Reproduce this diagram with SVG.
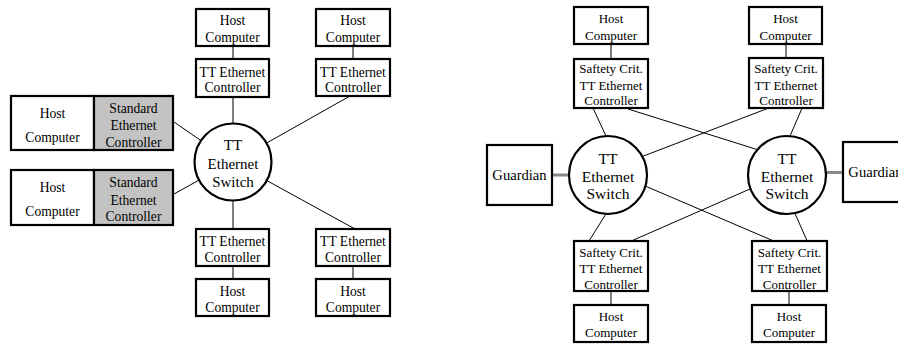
<svg xmlns="http://www.w3.org/2000/svg" width="898" height="348" viewBox="0 0 898 348">
<style>
.box{fill:#fff;stroke:#000;stroke-width:2.2}
.gray{fill:#c3c3c3;stroke:#000;stroke-width:2.2}
.sw{fill:#fff;stroke:#000;stroke-width:2.2}
.ln{stroke:#000;stroke-width:1;fill:none}
.vl{stroke:#555;stroke-width:1.5;fill:none}
.gl{stroke:#888;stroke-width:3;fill:none}
text{font-family:"Liberation Serif","Times New Roman",serif;fill:#000;text-anchor:middle}
.t{font-size:13.6px}
.r{font-size:13px}
.s{font-size:15px}
.s2{font-size:15.5px}
.g{font-size:14.6px}
</style>
<rect width="898" height="348" fill="#fff"/>
<g id="connectors">
  <!-- left diagram -->
  <line class="vl" x1="233" y1="46" x2="233" y2="59"/>
  <line class="vl" x1="353" y1="46" x2="353" y2="59"/>
  <line class="vl" x1="233" y1="97" x2="233" y2="123.5"/>
  <line class="ln" x1="350" y1="96" x2="266.5" y2="143.1"/>
  <line class="ln" x1="355" y1="229" x2="266.7" y2="180.5"/>
  <line class="ln" x1="174" y1="122" x2="201" y2="140.6"/>
  <line class="ln" x1="174" y1="194" x2="199" y2="180.1"/>
  <line class="vl" x1="233" y1="200.5" x2="233" y2="229"/>
  <line class="vl" x1="233" y1="266" x2="233" y2="279"/>
  <line class="vl" x1="353" y1="266" x2="353" y2="279"/>
  <!-- right diagram -->
  <line class="vl" x1="611" y1="44" x2="611" y2="59"/>
  <line class="vl" x1="786" y1="44" x2="786" y2="58"/>
  <line class="vl" x1="611" y1="291" x2="611" y2="305"/>
  <line class="vl" x1="789" y1="291" x2="789" y2="305"/>
  <line class="ln" x1="593" y1="108" x2="606" y2="136.1"/>
  <line class="ln" x1="628" y1="109" x2="757" y2="149.5"/>
  <line class="ln" x1="768" y1="108.3" x2="642.5" y2="156.4"/>
  <line class="ln" x1="802" y1="108.3" x2="790" y2="136.1"/>
  <line class="ln" x1="606" y1="213.9" x2="589" y2="241"/>
  <line class="ln" x1="632" y1="240.7" x2="750.4" y2="188.8"/>
  <line class="ln" x1="645.4" y1="186.1" x2="773" y2="240.7"/>
  <line class="ln" x1="795" y1="213.5" x2="807" y2="240.7"/>
  <line class="gl" x1="552" y1="175" x2="569" y2="175"/>
  <line class="gl" x1="826" y1="172.5" x2="843" y2="172.5"/>
</g>
<!-- Left diagram -->
<g id="L-host-top1"><rect class="box" x="196" y="9" width="73" height="37"/><text class="t" x="232.5" y="25.3">Host</text><text class="t" x="232.5" y="42">Computer</text></g>
<g id="L-ctrl-top1"><rect class="box" x="196" y="59" width="73" height="38"/><text class="t" x="232.5" y="76.5">TT Ethernet</text><text class="t" x="232.5" y="92">Controller</text></g>
<g id="L-host-top2"><rect class="box" x="316" y="9" width="74" height="37"/><text class="t" x="353" y="25.3">Host</text><text class="t" x="353" y="42">Computer</text></g>
<g id="L-ctrl-top2"><rect class="box" x="316" y="59" width="74" height="37"/><text class="t" x="353" y="76.5">TT Ethernet</text><text class="t" x="353" y="92">Controller</text></g>
<g id="L-std1"><rect class="box" x="11" y="96" width="83" height="54"/><rect class="gray" x="94" y="96" width="79" height="54"/><text class="t" x="52.5" y="118">Host</text><text class="t" x="52.5" y="142">Computer</text><text class="t" x="133.5" y="113">Standard</text><text class="t" x="133.5" y="130">Ethernet</text><text class="t" x="133.5" y="146.5">Controller</text></g>
<g id="L-std2"><rect class="box" x="11" y="170" width="83" height="55"/><rect class="gray" x="94" y="170" width="79" height="55"/><text class="t" x="52.5" y="191.5">Host</text><text class="t" x="52.5" y="215.5">Computer</text><text class="t" x="133.5" y="187">Standard</text><text class="t" x="133.5" y="204.5">Ethernet</text><text class="t" x="133.5" y="220.5">Controller</text></g>
<g id="L-switch"><circle class="sw" cx="233" cy="162" r="38.5"/><text class="s" x="233" y="150">TT</text><text class="s" x="233" y="168.5">Ethernet</text><text class="s" x="233" y="187">Switch</text></g>
<g id="L-ctrl-bot1"><rect class="box" x="196" y="229" width="73" height="37"/><text class="t" x="232.5" y="245.5">TT Ethernet</text><text class="t" x="232.5" y="261.5">Controller</text></g>
<g id="L-host-bot1"><rect class="box" x="196" y="279" width="73" height="37"/><text class="t" x="232.5" y="295.5">Host</text><text class="t" x="232.5" y="312">Computer</text></g>
<g id="L-ctrl-bot2"><rect class="box" x="316" y="229" width="74" height="37"/><text class="t" x="353" y="245.5">TT Ethernet</text><text class="t" x="353" y="261.5">Controller</text></g>
<g id="L-host-bot2"><rect class="box" x="316" y="279" width="74" height="37"/><text class="t" x="353" y="295.5">Host</text><text class="t" x="353" y="312">Computer</text></g>
<!-- Right diagram -->
<g id="R-host-top1"><rect class="box" x="574" y="7" width="74" height="37"/><text class="r" x="611" y="23">Host</text><text class="r" x="611" y="40">Computer</text></g>
<g id="R-ctrl-top1"><rect class="box" x="574" y="59" width="74" height="49"/><text class="r" x="611" y="73">Saftety Crit.</text><text class="r" x="611" y="89.5">TT Ethernet</text><text class="r" x="611" y="105">Controller</text></g>
<g id="R-host-top2"><rect class="box" x="749" y="7" width="73" height="37"/><text class="r" x="785.5" y="23">Host</text><text class="r" x="785.5" y="40">Computer</text></g>
<g id="R-ctrl-top2"><rect class="box" x="749" y="58" width="74" height="50"/><text class="r" x="786" y="73">Saftety Crit.</text><text class="r" x="786" y="89.5">TT Ethernet</text><text class="r" x="786" y="105">Controller</text></g>
<g id="R-guardian1"><rect class="box" x="487" y="145" width="65" height="60"/><text class="g" x="519.5" y="180">Guardian</text></g>
<g id="R-switch1"><circle class="sw" cx="608" cy="175" r="39"/><text class="s2" x="608" y="163.5">TT</text><text class="s2" x="608" y="181.5">Ethernet</text><text class="s2" x="608" y="199">Switch</text></g>
<g id="R-switch2"><circle class="sw" cx="787" cy="175" r="39"/><text class="s2" x="787" y="163.5">TT</text><text class="s2" x="787" y="181.5">Ethernet</text><text class="s2" x="787" y="199">Switch</text></g>
<g id="R-guardian2"><rect class="box" x="843" y="142" width="65" height="60"/><text class="g" x="875.5" y="177">Guardian</text></g>
<g id="R-ctrl-bot1"><rect class="box" x="574" y="241" width="74" height="50"/><text class="r" x="611" y="257">Saftety Crit.</text><text class="r" x="611" y="273">TT Ethernet</text><text class="r" x="611" y="288.5">Controller</text></g>
<g id="R-host-bot1"><rect class="box" x="574" y="305" width="74" height="37"/><text class="r" x="611" y="321">Host</text><text class="r" x="611" y="337">Computer</text></g>
<g id="R-ctrl-bot2"><rect class="box" x="752" y="241" width="75" height="50"/><text class="r" x="789.5" y="257">Saftety Crit.</text><text class="r" x="789.5" y="273">TT Ethernet</text><text class="r" x="789.5" y="288.5">Controller</text></g>
<g id="R-host-bot2"><rect class="box" x="752" y="305" width="74" height="37"/><text class="r" x="789" y="321">Host</text><text class="r" x="789" y="337">Computer</text></g>
</svg>
